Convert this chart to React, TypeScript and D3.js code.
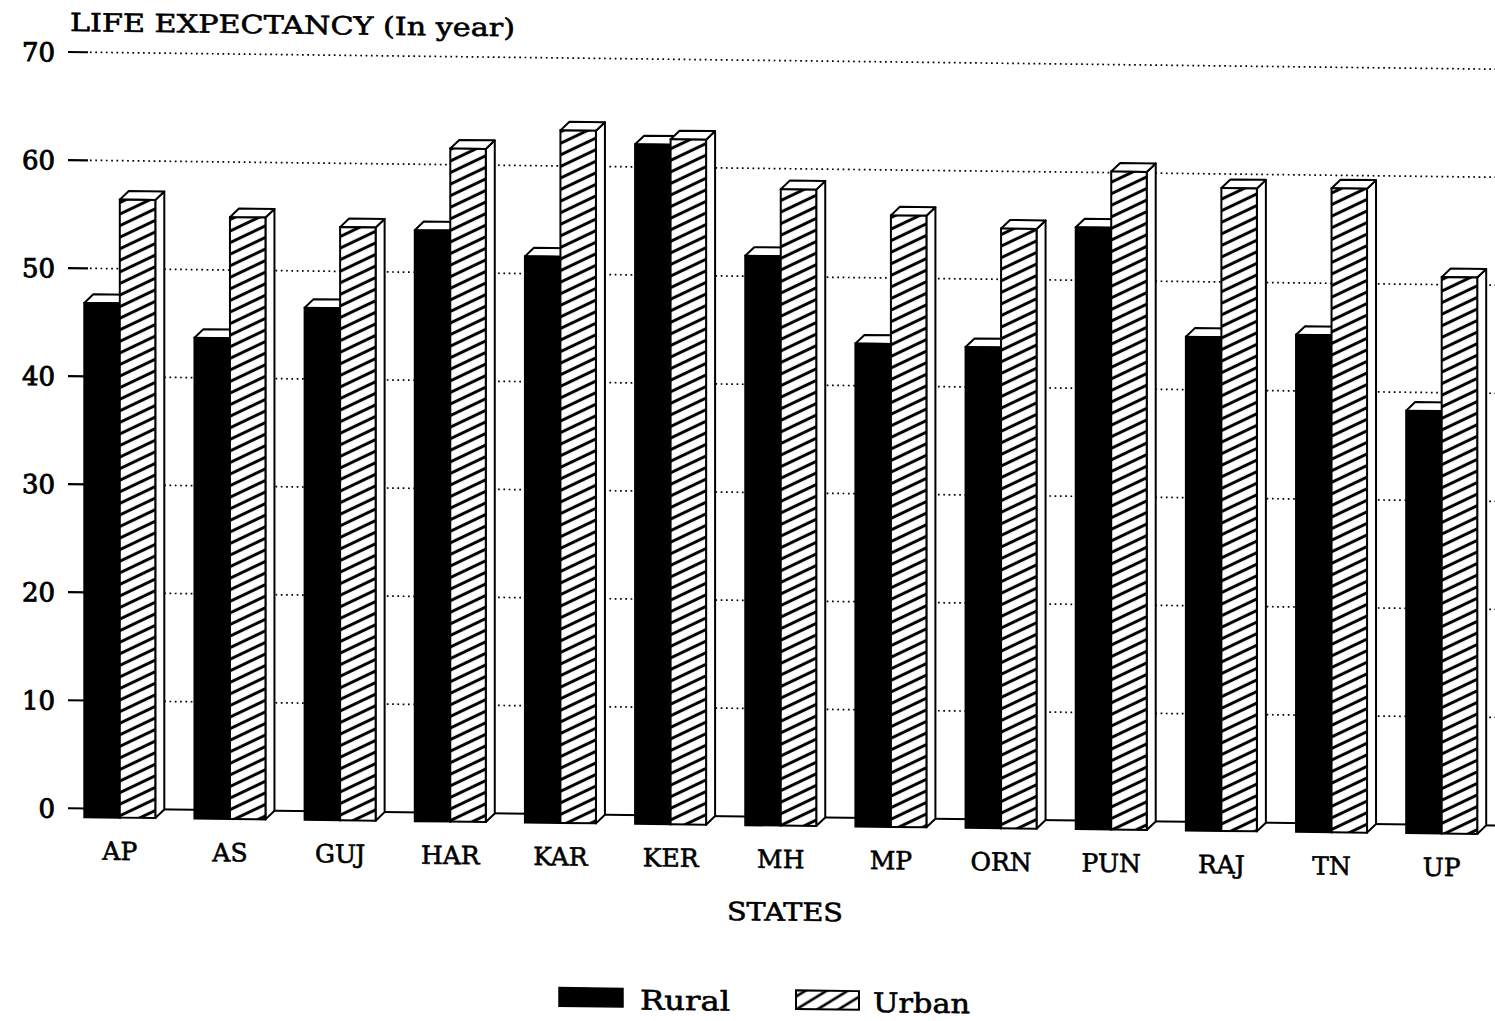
import React from 'react';
import * as d3 from 'd3';

const states = ['AP', 'AS', 'GUJ', 'HAR', 'KAR', 'KER', 'MH', 'MP', 'ORN', 'PUN', 'RAJ', 'TN', 'UP'];
const rural = [47.6, 44.5, 47.4, 54.7, 52.4, 62.9, 52.7, 44.7, 44.5, 55.7, 45.7, 46.0, 39.1];
const urban = [57.2, 55.7, 54.9, 62.3, 64.1, 63.4, 58.9, 56.6, 55.5, 60.9, 59.5, 59.6, 51.5];
const seriesNames = ['Rural', 'Urban'];
const yTicks = [0, 10, 20, 30, 40, 50, 60, 70];
const yTitle = 'LIFE EXPECTANCY (In year)';
const xTitle = 'STATES';

const SERIF = '"DejaVu Serif", "Liberation Serif", serif';

export default function App() {
  const W = 1495;
  const H = 1021;
  const y = d3.scaleLinear().domain([0, 70]).range([808.3, 52]);
  const x0 = d3
    .scaleBand<string>()
    .domain(states)
    .range([84.3, 1477.2])
    .paddingInner(0.3555)
    .paddingOuter(0);
  const x1 = d3.scaleBand<string>().domain(seriesNames).range([0, x0.bandwidth()]);
  const dx = 9;
  const dy = 8.7;
  const bw = x1.bandwidth();
  const sw = 2;
  const txt = { fill: '#000', stroke: '#000', strokeWidth: 0.6 };

  const bar = (xs: number, v: number, fill: string, key: string) => {
    const yt = y(v);
    const yb = y(0);
    const top = [
      [xs, yt + dy],
      [xs + bw, yt + dy],
      [xs + bw + dx, yt],
      [xs + dx, yt],
    ];
    const side = [
      [xs + bw, yt + dy],
      [xs + bw + dx, yt],
      [xs + bw + dx, yb],
      [xs + bw, yb + dy],
    ];
    const pts = (p: number[][]) => p.map((d) => d.join(',')).join(' ');
    return (
      <g key={key}>
        <polygon points={pts(side)} fill="#fff" stroke="#000" strokeWidth={sw} strokeLinejoin="round" />
        <polygon points={pts(top)} fill="#fff" stroke="#000" strokeWidth={sw} strokeLinejoin="round" />
        <rect x={xs} y={yt + dy} width={bw} height={yb - yt} fill="#fff" />
        <rect x={xs} y={yt + dy} width={bw} height={yb - yt} fill={fill} stroke="#000" strokeWidth={sw} />
      </g>
    );
  };

  const px = 68;
  const py = 808;
  const skew = `translate(${px},${py}) skewY(0.69) translate(${-px},${-py})`;

  return (
    <svg
      width={W}
      height={H}
      style={{ position: 'absolute', left: 0, top: 0, background: '#fff' }}
      xmlns="http://www.w3.org/2000/svg"
    >
      <defs>
        <pattern
          id="hatch"
          patternUnits="userSpaceOnUse"
          width={20}
          height={10.4}
          patternTransform="rotate(-26)"
        >
          <rect width={20} height={10.4} fill="#fff" />
          <line x1={-2} y1={5.2} x2={22} y2={5.2} stroke="#000" strokeWidth={3} />
        </pattern>
        <pattern
          id="hatchLegend"
          patternUnits="userSpaceOnUse"
          width={20}
          height={11}
          patternTransform="rotate(-32)"
        >
          <rect width={20} height={11} fill="#fff" />
          <line x1={-2} y1={5.5} x2={22} y2={5.5} stroke="#000" strokeWidth={2.6} />
        </pattern>
      </defs>
      <rect width={W} height={H} fill="#fff" />
      <g transform={skew}>
        {/* y title */}
        <text x={70} y={31} fontFamily={SERIF} fontSize={25} textLength={445} lengthAdjust="spacingAndGlyphs" {...txt}>
          {yTitle}
        </text>
        {/* grid and ticks */}
        {yTicks.map((t) => (
          <g key={t}>
            <text x={55} y={y(t) + 9.5} textAnchor="end" fontFamily={SERIF} fontSize={26} {...txt} strokeWidth={0.9}>
              {t}
            </text>
            {t === 0 ? (
              <line x1={68} x2={1500} y1={y(t)} y2={y(t)} stroke="#000" strokeWidth={2} />
            ) : (
              <>
                <line x1={68} x2={88} y1={y(t)} y2={y(t)} stroke="#000" strokeWidth={2.2} />
                <line
                  x1={90}
                  x2={1500}
                  y1={y(t)}
                  y2={y(t)}
                  stroke="#000"
                  strokeWidth={1.7}
                  strokeDasharray="1.7,3.6"
                />
              </>
            )}
          </g>
        ))}
        {/* bars */}
        {states.map((s, i) => {
          const xs = x0(s) as number;
          return (
            <g key={s}>
              {bar(xs + (x1('Rural') as number), rural[i], '#000', 'r')}
              {bar(xs + (x1('Urban') as number), urban[i], 'url(#hatch)', 'u')}
              <text
                x={xs + x0.bandwidth() / 2}
                y={859.4}
                textAnchor="middle"
                fontFamily={SERIF}
                fontSize={25}
                {...txt}
              >
                {s}
              </text>
            </g>
          );
        })}
        {/* x title */}
        <text x={785} y={912} textAnchor="middle" fontFamily={SERIF} fontSize={25} textLength={116} lengthAdjust="spacingAndGlyphs" {...txt}>
          {xTitle}
        </text>
        {/* legend */}
        <rect x={559} y={981.7} width={64} height={18.7} fill="#000" stroke="#000" strokeWidth={1.5} />
        <text x={640} y={1002.6} fontFamily={SERIF} fontSize={27} textLength={90} lengthAdjust="spacingAndGlyphs" {...txt}>
          {seriesNames[0]}
        </text>
        <rect x={796} y={981.6} width={63} height={18.6} fill="url(#hatchLegend)" stroke="#000" strokeWidth={2} />
        <text x={873} y={1002.4} fontFamily={SERIF} fontSize={27} textLength={97} lengthAdjust="spacingAndGlyphs" {...txt}>
          {seriesNames[1]}
        </text>
      </g>
    </svg>
  );
}
